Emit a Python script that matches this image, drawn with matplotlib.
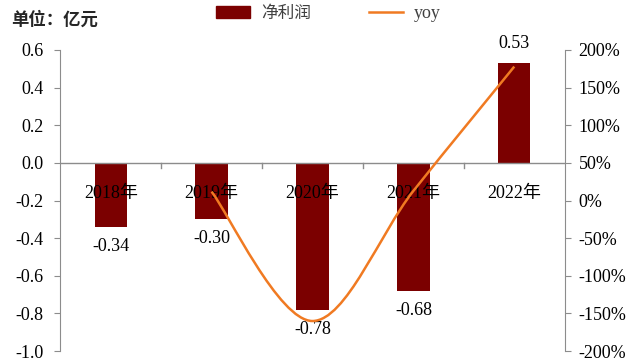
import matplotlib
matplotlib.use("Agg")
import matplotlib.pyplot as plt
import matplotlib.patches as mpatches
from matplotlib.lines import Line2D
from matplotlib.path import Path
from matplotlib.ticker import FuncFormatter
import numpy as np

# 数据：净利润（亿元）与同比增速（%）
years = ["2018年", "2019年", "2020年", "2021年", "2022年"]
profit = [-0.34, -0.30, -0.78, -0.68, 0.53]
yoy = [None, 11.8, -160.0, 12.8, 177.9]

BAR_COLOR = "#7B0000"
LINE_COLOR = "#F07A22"
AXIS_GRAY = "#8C8C8C"
SERIF = ["Liberation Serif", "Noto Sans CJK SC"]
CJK = ["Noto Sans CJK SC", "DejaVu Sans"]
FS = 13

plt.rcParams["font.family"] = SERIF


def smooth_path(xs, ys):
    """平滑折线：与Excel平滑线相同的三次贝塞尔控制点"""
    pts = np.column_stack([xs, ys])
    n = len(pts)
    verts = [pts[0]]
    codes = [Path.MOVETO]
    for i in range(n - 1):
        p0 = pts[i - 1] if i > 0 else pts[i]
        p1, p2 = pts[i], pts[i + 1]
        p3 = pts[i + 2] if i + 2 < n else pts[i + 1]
        c1 = p1 + (p2 - p0) / 6.0
        c2 = p2 - (p3 - p1) / 6.0
        verts += [c1, c2, p2]
        codes += [Path.CURVE4] * 3
    return Path(verts, codes)


def fmt_left(v, _):
    v = round(v, 1)
    return f"{abs(v):.1f}" if v == 0 else f"{v:.1f}"


fig = plt.figure(figsize=(6.41, 3.62), dpi=100)
ax = fig.add_axes([0.094, 0.030, 0.787, 0.832])
x = np.arange(len(years))

ax.bar(x, profit, width=0.32, color=BAR_COLOR, zorder=2)
ax.set_xlim(-0.5, len(years) - 0.5)
ax.set_ylim(-1.0, 0.6)
ax.set_yticks(np.arange(-1.0, 0.61, 0.2))
ax.yaxis.set_major_formatter(FuncFormatter(fmt_left))
ax.set_xticks([])

for s in ["top", "bottom", "right"]:
    ax.spines[s].set_visible(False)
ax.spines["left"].set_color(AXIS_GRAY)
ax.tick_params(axis="y", direction="out", length=4, color=AXIS_GRAY,
               labelsize=FS, pad=8)

# 零轴及分类分隔刻度
ax.axhline(0, color=AXIS_GRAY, lw=1.0, zorder=3)
for b in np.arange(0.5, len(years) - 0.5, 1.0):
    ax.plot([b, b], [0, -0.025], color=AXIS_GRAY, lw=1.0, zorder=3)

for i, name in enumerate(years):
    ax.annotate(name, (i, 0), xytext=(0, -22), textcoords="offset points",
                ha="center", va="center", fontsize=FS, zorder=4)

for i, v in enumerate(profit):
    dy = -14 if v < 0 else 14
    ax.annotate(f"{v:.2f}", (i, v), xytext=(0, dy), textcoords="offset points",
                ha="center", va="center", fontsize=FS)

# 右轴：同比
ax2 = ax.twinx()
ax2.set_ylim(-200, 200)
ax2.set_yticks(np.arange(-200, 201, 50))
ax2.yaxis.set_major_formatter(FuncFormatter(lambda v, _: f"{v:.0f}%"))
for s in ["top", "bottom", "left"]:
    ax2.spines[s].set_visible(False)
ax2.spines["right"].set_color(AXIS_GRAY)
ax2.tick_params(axis="y", direction="out", length=4, color=AXIS_GRAY,
                labelsize=FS, pad=6)

yx = [i for i, v in enumerate(yoy) if v is not None]
yv = [v for v in yoy if v is not None]
curve = mpatches.PathPatch(smooth_path(yx, yv), facecolor="none",
                           edgecolor=LINE_COLOR, lw=1.8, zorder=5,
                           transform=ax2.transData)
ax2.add_patch(curve)

fig.text(0.018, 0.945, "单位：亿元", family=CJK, fontsize=12.5,
         fontweight="bold", va="center", ha="left", color="#262626")

handles = [mpatches.Patch(color=BAR_COLOR, label="净利润"),
           Line2D([0], [0], color=LINE_COLOR, lw=1.8, label="yoy")]
leg = fig.legend(handles=handles, loc="center", bbox_to_anchor=(0.512, 0.962),
                 ncol=2, frameon=False, fontsize=FS, handlelength=1.9,
                 handleheight=0.6, columnspacing=3.2, handletextpad=0.6)
for t in leg.get_texts():
    t.set_color("#404040")
leg.get_texts()[0].set_family(CJK)
leg.get_texts()[0].set_fontsize(12)

fig.savefig("out.png", dpi=100)
